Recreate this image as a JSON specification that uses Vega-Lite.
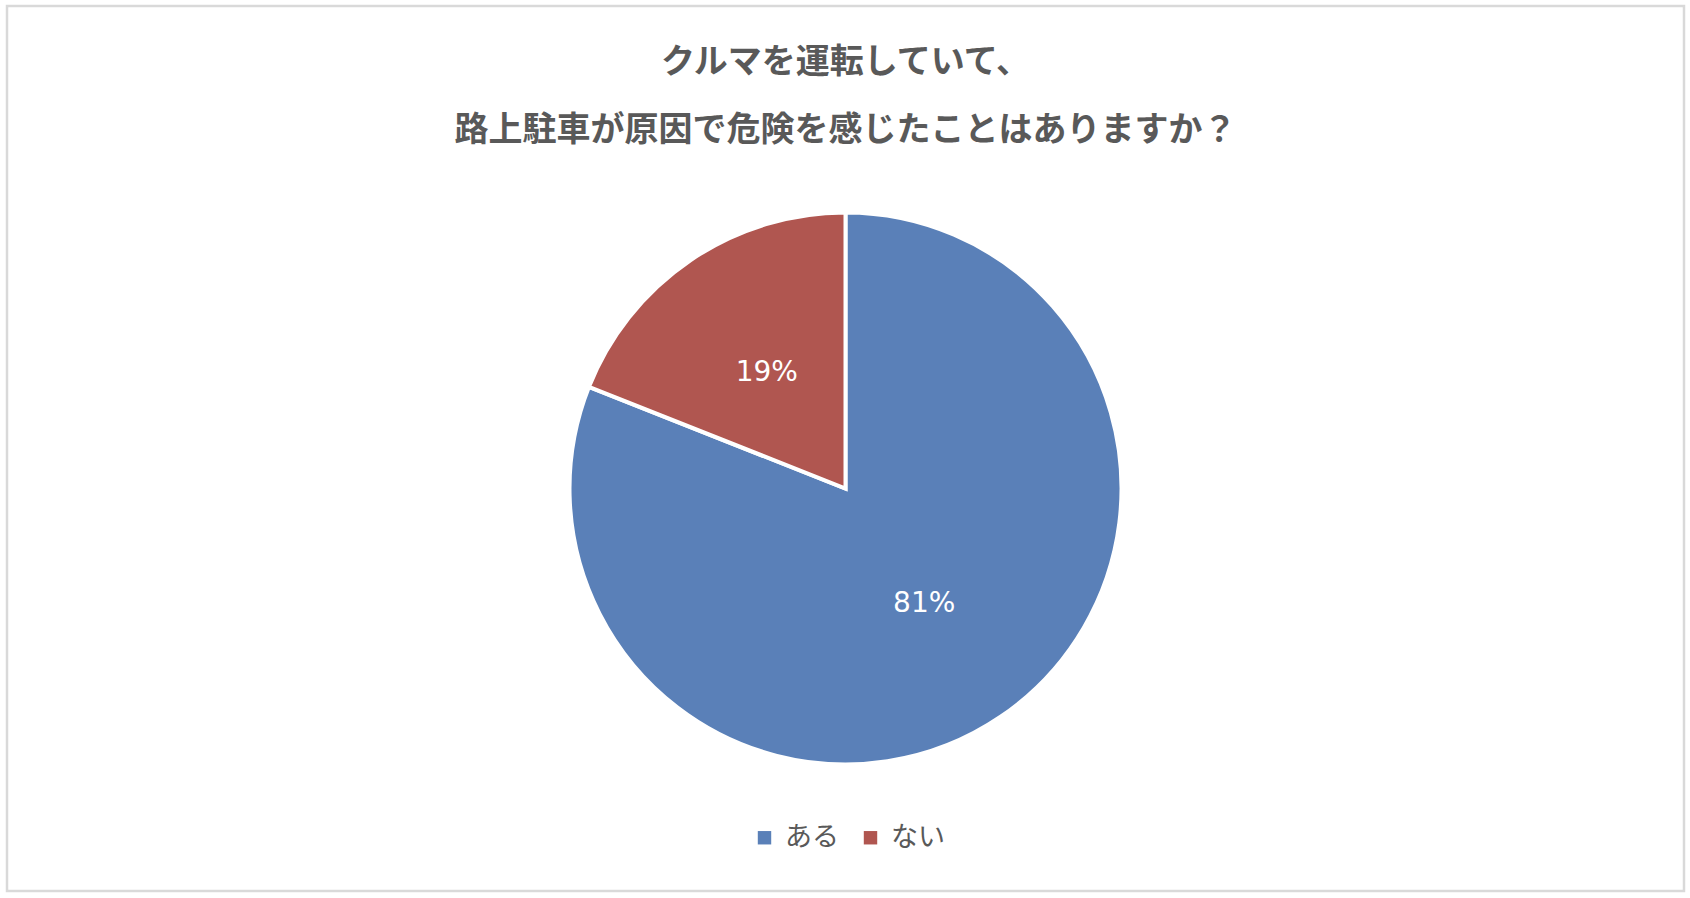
{
  "$schema": "https://vega.github.io/schema/vega-lite/v6.json",
  "description": "Pie chart: parking danger survey",
  "autosize": {"type": "none"},
  "width": 1677,
  "height": 885,
  "padding": {"left": 7, "top": 6, "right": 6, "bottom": 7},
  "background": "white",
  "view": {"stroke": "#d9d9d9", "strokeWidth": 2.5, "fill": "white"},
  "data": {
    "values": [
      {"answer": "ある", "value": 81, "label": "81%", "order": 1},
      {"answer": "ない", "value": 19, "label": "19%", "order": 2}
    ]
  },
  "title": {
    "text": ["クルマを運転していて、", "路上駐車が原因で危険を感じたことはありますか？"],
    "font": "Noto Sans CJK JP",
    "fontSize": 34,
    "fontWeight": "bold",
    "color": "#595959",
    "lineHeight": 68,
    "anchor": "middle",
    "offset": -142
  },
  "encoding": {
    "theta": {"field": "value", "type": "quantitative", "stack": true},
    "order": {"field": "order", "type": "quantitative"}
  },
  "layer": [
    {
      "mark": {"type": "arc", "outerRadius": 276, "stroke": "white", "strokeWidth": 4, "yOffset": 40},
      "encoding": {
        "color": {
          "field": "answer",
          "type": "nominal",
          "scale": {"domain": ["ある", "ない"], "range": ["#5A80B8", "#B05650"]},
          "legend": {
            "title": null,
            "orient": "none",
            "direction": "horizontal",
            "legendX": 744,
            "legendY": 818,
            "symbolType": "square",
            "symbolSize": 180,
            "symbolStrokeWidth": 0,
            "labelFont": "Noto Sans CJK JP",
            "labelFontSize": 27,
            "labelColor": "#595959",
            "labelOffset": 7,
            "columnPadding": 18,
            "padding": 0
          }
        }
      }
    },
    {
      "mark": {"type": "text", "radius": 140, "yOffset": 40, "font": "DejaVu Sans", "fontSize": 28, "fill": "white"},
      "encoding": {"text": {"field": "label"}}
    }
  ],
  "config": {
    "view": {"stroke": "#d9d9d9", "strokeWidth": 2.5, "fill": "white"}
  }
}
